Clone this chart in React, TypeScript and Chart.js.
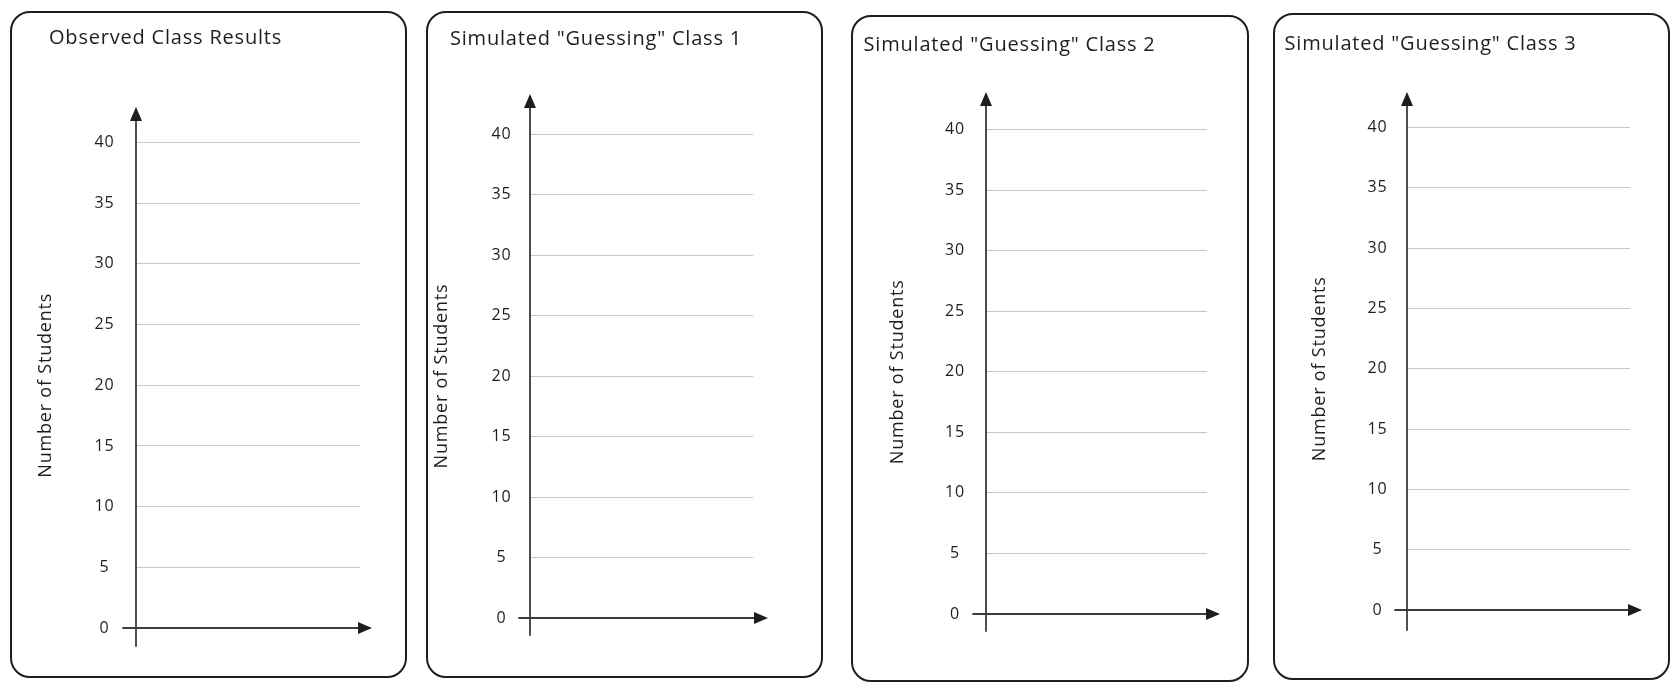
import { useEffect, useRef } from 'react';
import { Chart, registerables } from 'chart.js';

Chart.register(...registerables);

// ---- data ----
const panelTitles = [
  'Observed Class Results',
  'Simulated "Guessing" Class 1',
  'Simulated "Guessing" Class 2',
  'Simulated "Guessing" Class 3',
];
const yAxisTitle = 'Number of Students';
const yTickValues = [0, 5, 10, 15, 20, 25, 30, 35, 40];
const yMin = 0;
const yMax = 40;
const categories: string[] = []; // the reference is an empty template: no bars
const studentCounts: number[] = [];

// ---- layout (page pixel positions) ----
type PanelLayout = {
  x: number; y: number; w: number; h: number;
  axisX: number; chartTop: number; chartBottom: number; chartRight: number;
  titleX: number; titleCY: number; yTitleCX: number; tickCX: number;
  above: number; below: number; leftExt: number; rightExt: number;
};
const layouts: PanelLayout[] = [
  { x: 10, y: 11, w: 397, h: 667, axisX: 136, chartTop: 142.5, chartBottom: 628, chartRight: 360, titleX: 49, titleCY: 38.6, yTitleCX: 46, tickCX: 105.5, above: 35.5, below: 18, leftExt: 13, rightExt: 12 },
  { x: 426, y: 11, w: 397, h: 667, axisX: 530, chartTop: 134, chartBottom: 618, chartRight: 753, titleX: 450, titleCY: 39.6, yTitleCX: 441.5, tickCX: 502.5, above: 40, below: 17, leftExt: 11, rightExt: 15 },
  { x: 851, y: 15, w: 398, h: 667, axisX: 986, chartTop: 129.6, chartBottom: 614, chartRight: 1207, titleX: 863.6, titleCY: 45, yTitleCX: 898, tickCX: 956, above: 37.6, below: 17, leftExt: 13, rightExt: 13 },
  { x: 1273, y: 13, w: 397, h: 667, axisX: 1407, chartTop: 127.5, chartBottom: 610, chartRight: 1630, titleX: 1284.6, titleCY: 44, yTitleCX: 1320, tickCX: 1378.5, above: 35.5, below: 20, leftExt: 12, rightExt: 12 },
];

const FONT = '"Open Sans", "DejaVu Sans", sans-serif';
const INK = '#1e1e1e';
const TITLE_SIZE = 20;
const YTITLE_SIZE = 18;
const TICK_SIZE = 16;
const LETTER_SPACING = '0.8px';

function Panel({ title, L }: { title: string; L: PanelLayout }) {
  const ref = useRef<HTMLCanvasElement>(null);

  useEffect(() => {
    if (!ref.current) return;
    const padL = L.titleX - L.x;
    const yWidth = L.axisX - L.x - padL;
    const tLH = TITLE_SIZE * 1.2;
    const tTop = L.titleCY - L.y - tLH / 2;
    const tBottom = L.chartTop - L.y - tTop - tLH;
    const yLH = YTITLE_SIZE * 1.2;
    const yTitlePad = L.yTitleCX - L.x - padL - yLH / 2;
    const tickPad = L.axisX - L.tickCX - 9;

    const spacingPlugin = {
      id: 'spacing',
      beforeInit(chart: any) {
        chart.ctx.letterSpacing = LETTER_SPACING;
      },
      beforeLayout(chart: any) {
        chart.ctx.letterSpacing = LETTER_SPACING;
      },
      beforeDraw(chart: any) {
        chart.ctx.letterSpacing = LETTER_SPACING;
      },
    };

    const arrowPlugin = {
      id: 'arrows',
      afterDraw(chart: any) {
        const ctx = chart.ctx;
        const area = chart.chartArea;
        const ys = chart.scales.y;
        const x0 = area.left;
        const yTop = ys.getPixelForValue(yMax) - L.above;
        const yZero = ys.getPixelForValue(yMin);
        const xEnd = area.right + L.rightExt;
        const aLen = 14;
        const aHalf = 6;
        ctx.save();
        ctx.strokeStyle = '#3c3c3c';
        ctx.lineWidth = 1.8;
        ctx.lineCap = 'round';
        ctx.beginPath();
        ctx.moveTo(x0, yZero + L.below);
        ctx.lineTo(x0, yTop + aLen - 1);
        ctx.moveTo(x0 - L.leftExt, yZero);
        ctx.lineTo(xEnd - aLen + 1, yZero);
        ctx.stroke();
        ctx.fillStyle = INK;
        ctx.beginPath();
        ctx.moveTo(x0, yTop);
        ctx.lineTo(x0 - aHalf, yTop + aLen);
        ctx.lineTo(x0 + aHalf, yTop + aLen);
        ctx.closePath();
        ctx.fill();
        ctx.beginPath();
        ctx.moveTo(xEnd, yZero);
        ctx.lineTo(xEnd - aLen, yZero - aHalf);
        ctx.lineTo(xEnd - aLen, yZero + aHalf);
        ctx.closePath();
        ctx.fill();
        ctx.restore();
      },
    };

    const chart = new Chart(ref.current, {
      type: 'bar',
      data: {
        labels: categories,
        datasets: [{ data: studentCounts, backgroundColor: '#888' }],
      },
      options: {
        responsive: false,
        animation: false,
        layout: {
          padding: {
            left: padL,
            right: L.x + L.w - L.chartRight,
            top: 0,
            bottom: L.y + L.h - L.chartBottom,
          },
        },
        plugins: {
          legend: { display: false },
          tooltip: { enabled: false },
          title: {
            display: true,
            text: title,
            align: 'start',
            color: INK,
            font: { family: FONT, size: TITLE_SIZE, weight: 'normal' },
            padding: { top: tTop, bottom: tBottom },
          },
        },
        scales: {
          x: { display: false },
          y: {
            type: 'linear',
            min: yMin,
            max: yMax,
            afterBuildTicks: (s: any) => {
              s.ticks = yTickValues.map((v) => ({ value: v }));
            },
            afterFit: (s: any) => {
              s.width = yWidth;
            },
            border: { display: false },
            grid: {
              color: 'rgba(0,0,0,0.22)',
              lineWidth: 1,
              drawTicks: false,
            },
            ticks: {
              crossAlign: 'center',
              padding: tickPad,
              color: INK,
              font: { family: FONT, size: TICK_SIZE },
            },
            title: {
              display: true,
              text: yAxisTitle,
              color: INK,
              font: { family: FONT, size: YTITLE_SIZE },
              padding: { top: yTitlePad, bottom: 0 },
            },
          },
        },
      },
      plugins: [spacingPlugin, arrowPlugin],
    } as any);
    return () => chart.destroy();
  }, [title, L]);

  return (
    <>
      <div
        style={{
          position: 'absolute',
          left: L.x,
          top: L.y,
          width: L.w,
          height: L.h,
          border: '2px solid #1e1e1e',
          borderRadius: 20,
          boxSizing: 'border-box',
        }}
      />
      <canvas
        ref={ref}
        width={L.w}
        height={L.h}
        style={{ position: 'absolute', left: L.x, top: L.y, width: L.w, height: L.h }}
      />
    </>
  );
}

export default function App() {
  return (
    <div style={{ position: 'absolute', left: 0, top: 0, width: 1680, height: 693, background: '#fff', overflow: 'hidden' }}>
      {panelTitles.map((t, i) => (
        <Panel key={i} title={t} L={layouts[i]} />
      ))}
    </div>
  );
}
